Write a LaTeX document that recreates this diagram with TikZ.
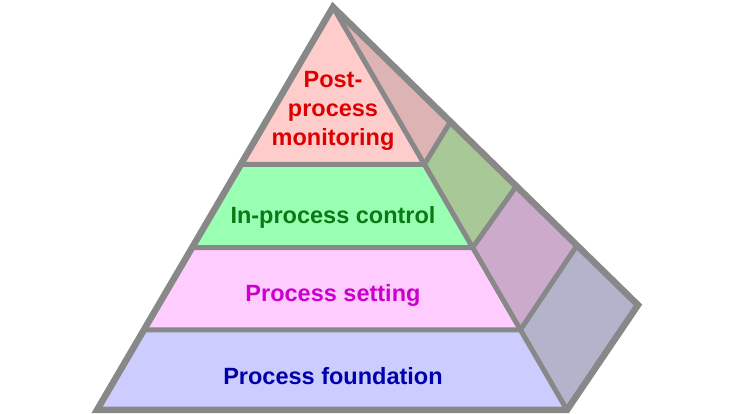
\documentclass[tikz,border=0pt]{standalone}
\usepackage{fontspec}
\setmainfont{Liberation Sans}
\usetikzlibrary{calc}
\definecolor{fA}{HTML}{FFCCCC}
\definecolor{fB}{HTML}{99FFB3}
\definecolor{fC}{HTML}{FFCCFF}
\definecolor{fD}{HTML}{CCCCFF}
\definecolor{sA}{HTML}{DDB3B3}
\definecolor{sB}{HTML}{A8C898}
\definecolor{sC}{HTML}{CCAACC}
\definecolor{sD}{HTML}{B3B3CC}
\definecolor{edge}{HTML}{888888}
\definecolor{tA}{HTML}{DD0000}
\definecolor{tB}{HTML}{087A16}
\definecolor{tC}{HTML}{CC00CC}
\definecolor{tD}{HTML}{0000AA}
\begin{document}
\begin{tikzpicture}[x=1pt,y=1pt,
  outer/.style={draw=edge,line width=6.5pt,line join=miter},
  inner/.style={draw=edge,line width=5pt},
  lbl/.style={font=\fontsize{23.5}{29}\selectfont\bfseries,align=center,inner sep=0pt}]
\useasboundingbox (0,0) rectangle (736,414);
\coordinate (A) at (333,407);
\coordinate (L) at (97,4);
\coordinate (R) at (567,4);
\coordinate (B) at (638,109);
\coordinate (L1) at ($(A)!0.3905!(L)$);
\coordinate (L2) at ($(A)!0.597!(L)$);
\coordinate (L3) at ($(A)!0.801!(L)$);
\coordinate (R1) at ($(A)!0.3905!(R)$);
\coordinate (R2) at ($(A)!0.597!(R)$);
\coordinate (R3) at ($(A)!0.801!(R)$);
\coordinate (B1) at ($(A)!0.385!(B)$);
\coordinate (B2) at ($(A)!0.601!(B)$);
\coordinate (B3) at ($(A)!0.80!(B)$);
% front fills
\fill[fA] (A) -- (L1) -- (R1) -- cycle;
\fill[fB] (L1) -- (L2) -- (R2) -- (R1) -- cycle;
\fill[fC] (L2) -- (L3) -- (R3) -- (R2) -- cycle;
\fill[fD] (L3) -- (L) -- (R) -- (R3) -- cycle;
% side fills
\fill[sA] (A) -- (R1) -- (B1) -- cycle;
\fill[sB] (R1) -- (R2) -- (B2) -- (B1) -- cycle;
\fill[sC] (R2) -- (R3) -- (B3) -- (B2) -- cycle;
\fill[sD] (R3) -- (R) -- (B) -- (B3) -- cycle;
% dividers
\draw[inner] (L1) -- (R1) -- (B1);
\draw[inner] (L2) -- (R2) -- (B2);
\draw[inner] (L3) -- (R3) -- (B3);
\draw[inner] (A) -- (R);
% outline
\draw[outer] (A) -- (L) -- (R) -- (B) -- cycle;
% labels
\node[lbl,text=tA] (t1) at (333,303.5) {Post-\\process\\monitoring};
\node[lbl,text=tB] (t2) at (333,197) {In-process control};
\node[lbl,text=tC] (t3) at (333,119) {Process setting};
\node[lbl,text=tD] (t4) at (333,38) {Process foundation};
\end{tikzpicture}
\end{document}
